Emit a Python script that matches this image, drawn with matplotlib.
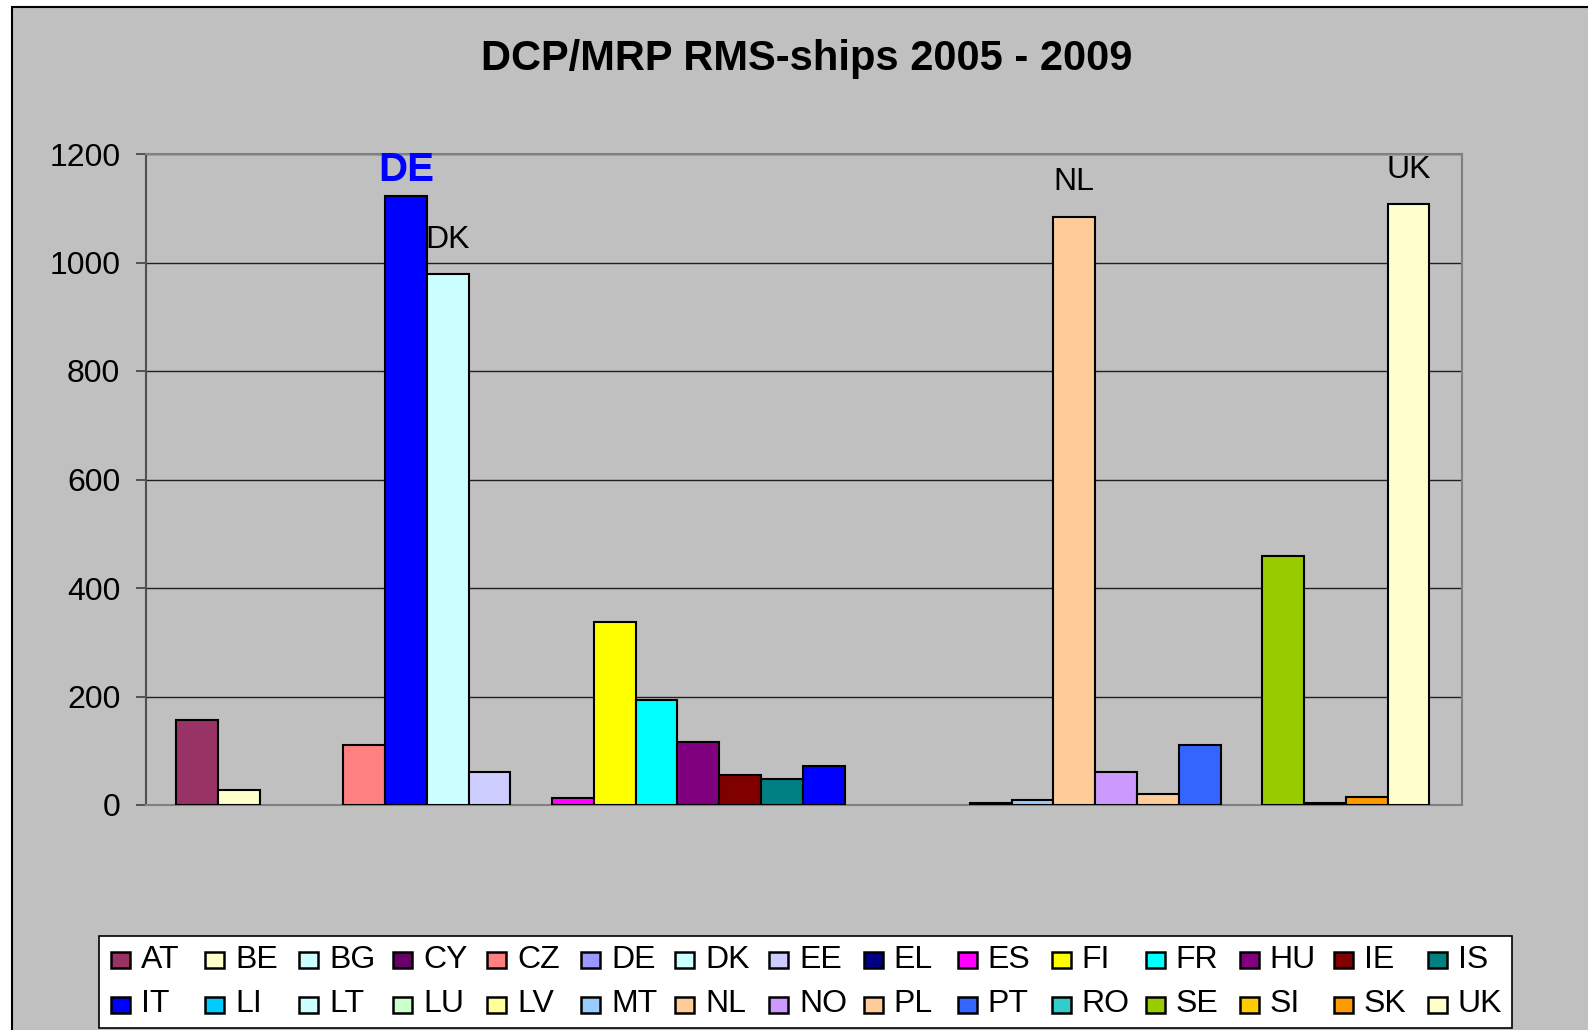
import matplotlib
matplotlib.use('Agg')
from matplotlib import pyplot as plt
from matplotlib.patches import Rectangle
import numpy as np

plt.rcParams['font.family'] = ['Liberation Sans', 'DejaVu Sans']

countries = ['AT', 'BE', 'BG', 'CY', 'CZ', 'DE', 'DK', 'EE', 'EL', 'ES',
             'FI', 'FR', 'HU', 'IE', 'IS', 'IT', 'LI', 'LT', 'LU', 'LV',
             'MT', 'NL', 'NO', 'PL', 'PT', 'RO', 'SE', 'SI', 'SK', 'UK']
ships = [157, 28, 0, 0, 110, 1123, 978, 60, 0, 13,
         338, 194, 116, 56, 48, 71, 0, 0, 0, 4,
         9, 1084, 61, 21, 110, 0, 459, 4, 14, 1107]
# legend colours (Excel palette); DE bar itself is drawn in pure blue
legend_colors = ['#993366', '#FFFFCC', '#CCFFFF', '#660066', '#FF8080', '#9999FF',
                 '#CCFFFF', '#CCCCFF', '#000080', '#FF00FF', '#FFFF00', '#00FFFF',
                 '#800080', '#800000', '#008080', '#0000FF', '#00CCFF', '#CCFFFF',
                 '#CCFFCC', '#FFFF99', '#99CCFF', '#FFCC99', '#CC99FF', '#FFCC99',
                 '#3366FF', '#33CCCC', '#99CC00', '#FFCC00', '#FF9900', '#FFFFCC']
bar_colors = list(legend_colors)
bar_colors[countries.index('DE')] = '#0000FF'
labelled = ['DE', 'DK', 'NL', 'UK']

W, H = 1588, 1030


def fx(px):
    return px / W


def fy(py):
    return 1 - py / H


fig = plt.figure(figsize=(W / 100, H / 100), dpi=100)
fig.patch.set_facecolor('white')
# chart area: grey, black border on left/top, runs off right/bottom
fig.add_artist(Rectangle((fx(12), -0.1), 1.2, fy(7) + 0.1, transform=fig.transFigure,
                         facecolor='#C0C0C0', edgecolor='black', linewidth=1.5, zorder=-10))

ax = fig.add_axes([fx(146), fy(805), fx(1462) - fx(146), fy(154) - fy(805)])
ax.set_facecolor('#C0C0C0')

x = np.arange(len(countries))
lw = [1.5 if v > 0 else 0 for v in ships]
ax.bar(x, ships, width=1.0, color=bar_colors, edgecolor='black', linewidth=lw, zorder=3)

ax.set_xlim(-1.22, 30.28)
ax.set_ylim(0, 1200)
ax.set_yticks(range(0, 1201, 200))
ax.set_xticks([])
ax.tick_params(axis='y', labelsize=23, length=7.5, width=1.2, color='#404040', pad=11)
ax.grid(axis='y', color='#202020', linewidth=1.0, zorder=0)
ax.set_axisbelow(True)
for side in ['top', 'right', 'bottom']:
    ax.spines[side].set_color('#808080')
    ax.spines[side].set_linewidth(1.5)
ax.spines['left'].set_color('#505050')
ax.spines['left'].set_linewidth(1.5)

for c in labelled:
    i = countries.index(c)
    if c == 'DE':
        ax.annotate(c, xy=(i, ships[i]), xytext=(0, 5), textcoords='offset points',
                    ha='center', va='bottom', fontsize=29, fontweight='bold', color='#0000FF')
    else:
        ax.annotate(c, xy=(i, ships[i]), xytext=(0, 14), textcoords='offset points',
                    ha='center', va='bottom', fontsize=23, color='black')

fig.text(fx(807), fy(59), 'DCP/MRP RMS-ships 2005 - 2009', ha='center', va='center',
         fontsize=30, fontweight='bold')

# legend box, two rows of 15, filled row by row
fig.add_artist(Rectangle((fx(99), fy(1028)), fx(1512) - fx(99), fy(936) - fy(1028),
                         transform=fig.transFigure, facecolor='white', edgecolor='black',
                         linewidth=1.2, zorder=5))
for k, (name, col) in enumerate(zip(countries, legend_colors)):
    row, colno = divmod(k, 15)
    left = 111 + 94.07 * colno
    mid = 960 + 45 * row
    fig.add_artist(Rectangle((fx(left), fy(mid + 8)), fx(19), 16 / H,
                             transform=fig.transFigure, facecolor=col,
                             edgecolor='black', linewidth=1.8, zorder=6))
    fig.text(fx(left + 30), fy(mid + 7.5), name, ha='left', va='baseline',
             fontsize=23, zorder=6)

fig.savefig('out.png', dpi=100, facecolor=fig.get_facecolor())
